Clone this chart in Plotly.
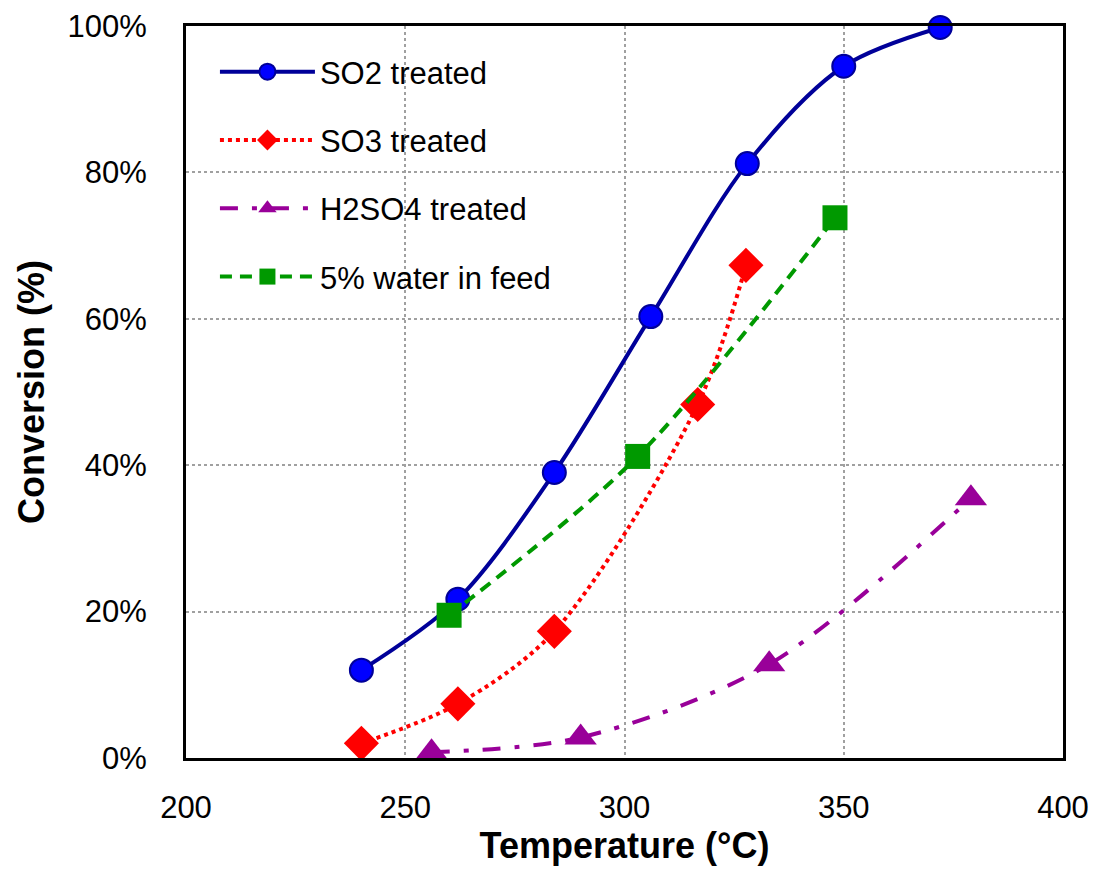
import plotly.graph_objects as go

# Data
so2_temp = [240, 262, 284, 306, 328, 350, 372]
so2_conv = [0.120, 0.217, 0.390, 0.603, 0.812, 0.945, 0.998]

so3_temp = [240, 262, 284, 316.7, 327.7]
so3_conv = [0.020, 0.074, 0.173, 0.483, 0.673]

h2so4_temp = [256, 290, 333, 379]
h2so4_conv = [0.008, 0.028, 0.128, 0.355]

water_temp = [260, 303, 348]
water_conv = [0.195, 0.412, 0.738]

x_ticks = [200, 250, 300, 350, 400]
y_ticks = [0, 0.2, 0.4, 0.6, 0.8, 1.0]

FONT = "Liberation Sans, Arial, sans-serif"

fig = go.Figure()

fig.add_trace(go.Scatter(
    x=so2_temp, y=so2_conv, name="SO2 treated", mode="lines+markers",
    line=dict(color="#000099", width=4, shape="spline", smoothing=0.9),
    marker=dict(symbol="circle", size=23, color="#0000FF",
                line=dict(color="#000099", width=2)),
    cliponaxis=False, legendgroup="a"))

fig.add_trace(go.Scatter(
    x=so3_temp, y=so3_conv, name="SO3 treated", mode="lines+markers",
    line=dict(color="#FF0000", width=4, dash="dot", shape="spline", smoothing=0.9),
    marker=dict(symbol="diamond", size=27, color="#FF0000"),
    cliponaxis=False, legendgroup="b"))

fig.add_trace(go.Scatter(
    x=h2so4_temp, y=h2so4_conv, name="H2SO4 treated", mode="lines+markers",
    line=dict(color="#990099", width=4, dash="18px,14px,5px,14px",
              shape="spline", smoothing=0.9),
    marker=dict(symbol="triangle-up", size=28, color="#990099"),
    cliponaxis=False, legendgroup="c"))

fig.add_trace(go.Scatter(
    x=water_temp, y=water_conv, name="5% water in feed", mode="lines+markers",
    line=dict(color="#009900", width=4, dash="12px,8px", shape="spline", smoothing=0.9),
    marker=dict(symbol="square", size=25, color="#009900"),
    cliponaxis=False, legendgroup="d"))

grid = dict(showgrid=True, gridcolor="#A0A0A0", gridwidth=2, griddash="dot")

fig.update_xaxes(
    range=[200, 400], tickvals=x_ticks, ticks="", **grid,
    showline=True, linecolor="black", linewidth=3, mirror=True,
    tickfont=dict(size=31, color="black", family=FONT),
    ticklabelstandoff=20, zeroline=False, automargin=False,
    title=dict(text="<b>Temperature (°C)</b>", font=dict(size=36, color="black", family=FONT),
               standoff=6))

fig.update_yaxes(
    range=[0, 1], tickvals=y_ticks, tickformat=".0%", ticks="", **grid,
    showline=True, linecolor="black", linewidth=3, mirror=True,
    tickfont=dict(size=31, color="black", family=FONT),
    ticklabelstandoff=30, zeroline=False, automargin=False,
    title=dict(text="<b>Conversion (%)</b>", font=dict(size=36, color="black", family=FONT),
               standoff=12))

fig.update_layout(
    width=1094, height=871,
    margin=dict(l=186, r=31, t=26, b=113),
    plot_bgcolor="white", paper_bgcolor="white",
    font=dict(family=FONT, color="black"),
    legend=dict(x=0.033, y=0.974, xanchor="left", yanchor="top",
                bgcolor="rgba(255,255,255,0)", borderwidth=0,
                font=dict(size=31, color="black", family=FONT),
                tracegroupgap=25, itemwidth=95),
)

fig.write_html("out.html")
